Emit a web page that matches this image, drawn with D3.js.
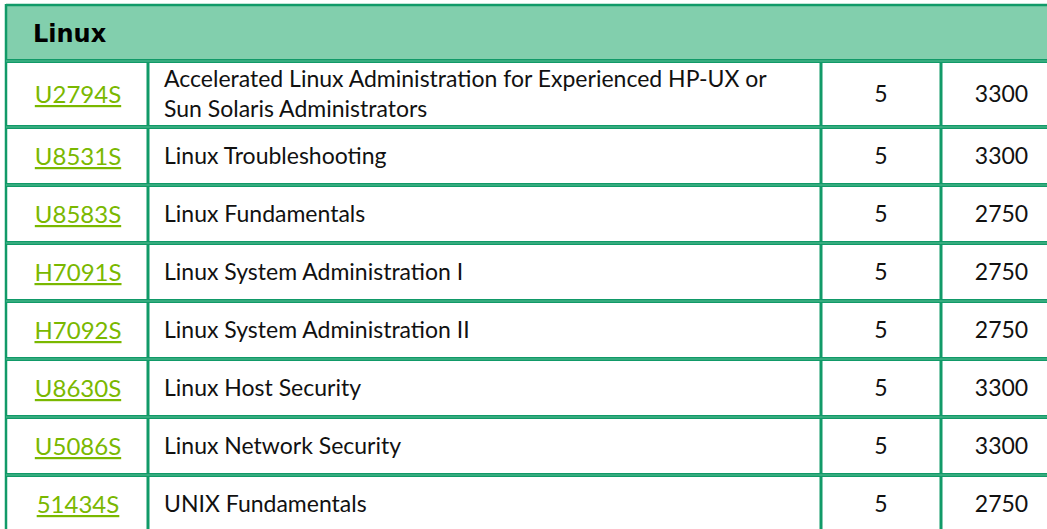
<!DOCTYPE html>
<html><head><meta charset="utf-8">
<script src="https://cdn.jsdelivr.net/npm/d3@7"></script>
<style>html,body{margin:0;padding:0;background:#fff;overflow:hidden}</style>
</head><body>
<svg id="t" width="1047" height="529"></svg>
<script>
const sectionTitle = "Linux";
const codes = ["U2794S","U8531S","U8583S","H7091S","H7092S","U8630S","U5086S","51434S"];
const titles = [
  ["Accelerated Linux Administration for Experienced HP-UX or","Sun Solaris Administrators"],
  ["Linux Troubleshooting"],
  ["Linux Fundamentals"],
  ["Linux System Administration I"],
  ["Linux System Administration II"],
  ["Linux Host Security"],
  ["Linux Network Security"],
  ["UNIX Fundamentals"]
];
const days = [5,5,5,5,5,5,5,5];
const prices = [3300,3300,2750,2750,2750,3300,3300,2750];

const svg = d3.select("#t");
const FONT = "Lato, 'Open Sans', sans-serif";
const lineC = "#119a68";
const tLeft = 6, tTop = 5, headerH = 56;
const colEdges = [tLeft, 148, 821, 941, 1062];
const rowH = d => d.lines === 2 ? 66 : 58;
const rows = codes.map((c,i)=>({code:c, title:titles[i], days:days[i], price:prices[i], lines:titles[i].length}));
let yy0 = tTop + headerH;
rows.forEach(r=>{ r.y0 = yy0; yy0 += rowH(r); r.y1 = yy0; });

// header
svg.append("rect").attr("x",tLeft).attr("y",tTop).attr("width",1047).attr("height",headerH).attr("fill","#82cfad");
svg.append("text").attr("x",33).attr("y",tTop+headerH/2).attr("dy","0.36em")
  .attr("font-family","'DejaVu Sans', sans-serif").attr("font-weight","bold").attr("font-size",24)
  .attr("fill","#000").text(sectionTitle);

// cells text
const g = svg.append("g");
rows.forEach(r=>{
  const cy = (r.y0+r.y1)/2;
  const cx = (colEdges[0]+colEdges[1])/2 + 1;
  const code = g.append("text").attr("x",cx).attr("y",cy).attr("dy","0.36em")
    .attr("text-anchor","middle").attr("font-family",FONT).attr("font-size",24)
    .attr("fill","#7ab800").text(r.code);
  const bb = code.node().getBBox();
  g.append("rect").attr("x",bb.x).attr("y",cy+11).attr("width",bb.width).attr("height",2.2).attr("fill","#7ab800");
  const n = r.title.length;
  r.title.forEach((t,k)=>{
    g.append("text").attr("x",colEdges[1]+16).attr("y",cy+(k-(n-1)/2)*30).attr("dy","0.36em")
      .attr("font-family",FONT).attr("font-size",23).attr("fill","#111").text(t);
  });
  g.append("text").attr("x",(colEdges[2]+colEdges[3])/2).attr("y",cy).attr("dy","0.36em")
    .attr("text-anchor","middle").attr("font-family",FONT).attr("font-size",23).attr("fill","#111").text(r.days);
  g.append("text").attr("x",(colEdges[3]+colEdges[4])/2).attr("y",cy).attr("dy","0.36em")
    .attr("text-anchor","middle").attr("font-family",FONT).attr("font-size",23).attr("fill","#111").text(r.price);
});

// vertical lines
[colEdges[1],colEdges[2],colEdges[3]].forEach(x=>{
  svg.append("line").attr("x1",x).attr("x2",x).attr("y1",tTop+headerH).attr("y2",529)
    .attr("stroke",lineC).attr("stroke-width",3);
});
svg.append("line").attr("x1",tLeft).attr("x2",tLeft).attr("y1",tTop-1).attr("y2",529).attr("stroke",lineC).attr("stroke-width",2.5);
// horizontal lines
svg.append("line").attr("x1",tLeft).attr("x2",1047).attr("y1",tTop).attr("y2",tTop).attr("stroke",lineC).attr("stroke-width",2.5);
const hy = [tTop+headerH].concat(rows.map(r=>r.y1));
hy.forEach(yv=>{
  svg.append("line").attr("x1",tLeft).attr("x2",1047).attr("y1",yv).attr("y2",yv).attr("stroke",lineC).attr("stroke-width",4);
  svg.append("line").attr("x1",tLeft).attr("x2",1047).attr("y1",yv).attr("y2",yv).attr("stroke","#5dbd94").attr("stroke-width",1);
});
</script>
</body></html>
